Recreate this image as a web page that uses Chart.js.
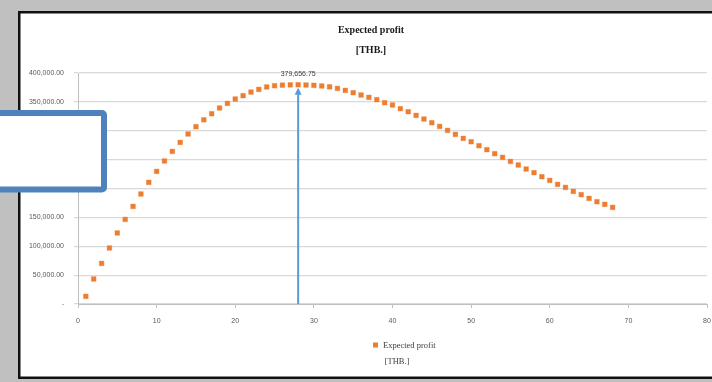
<!DOCTYPE html>
<html>
<head>
<meta charset="utf-8">
<title>Expected profit</title>
<script src="https://cdn.jsdelivr.net/npm/chart.js@4/dist/chart.umd.min.js"></script>
<style>
  html, body { margin: 0; padding: 0; background: #c0c0c0; }
  canvas { display: block; }
</style>
</head>
<body>
<canvas id="chart" width="712" height="382"></canvas>
<script>
// Period numbers (x axis) and the expected profit for each period, in THB.
const periods = Array.from({ length: 68 }, (_, i) => i + 1);
const expectedProfit = [
  13200, 43300, 70300, 97000, 123000, 146500, 169000, 190500, 210600, 229600,
  247600, 264200, 279800, 294400, 307000, 319000, 329500, 339400, 347400, 355000,
  360700, 367000, 371600, 375800, 378000, 379000, 379400, 379656.75, 379200, 378600,
  377500, 376000, 373300, 369900, 365900, 361900, 357800, 353800, 348600, 344600,
  338200, 333000, 326600, 320300, 313900, 307500, 300600, 293700, 286800, 281000,
  274100, 267200, 260300, 253900, 246900, 240700, 233800, 227400, 220400, 214000,
  207100, 201900, 195000, 189300, 182900, 177100, 172500, 167300
];
const xTickStep = 10;
const yTickStep = 50000;

const ORANGE = 'rgb(237,125,49)';
const ARROW_BLUE = 'rgb(91,155,213)';
const BOX_BLUE = 'rgb(79,129,189)';
const SERIF = '"Liberation Serif", "DejaVu Serif", serif';
const SANS = '"Liberation Sans", Arial, sans-serif';

const fmt = new Intl.NumberFormat('en-US', { minimumFractionDigits: 2, maximumFractionDigits: 2 });

// Sheet background and the bordered white chart frame.
const framePlugin = {
  id: 'frame',
  beforeDraw(chart) {
    const ctx = chart.ctx;
    ctx.save();
    ctx.fillStyle = '#c0c0c0';
    ctx.fillRect(0, 0, chart.width, chart.height);
    ctx.fillStyle = '#ffffff';
    ctx.fillRect(19, 12, 720, 366);
    ctx.strokeStyle = '#111111';
    ctx.lineWidth = 2.5;
    ctx.strokeRect(19.25, 12.25, 720, 365.5);
    ctx.restore();
  }
};

// Titles, legend, peak marker and the callout box.
const decorPlugin = {
  id: 'decor',
  afterDraw(chart) {
    const ctx = chart.ctx;
    const xs = chart.scales.x;
    const ys = chart.scales.y;

    ctx.save();
    // Title
    ctx.fillStyle = '#1a1a1a';
    ctx.textAlign = 'center';
    ctx.textBaseline = 'middle';
    ctx.font = 'bold 10px ' + SERIF;
    ctx.fillText('Expected profit', 371, 30);
    ctx.fillText('[THB.]', 371, 50);

    // Peak arrow
    let peakIdx = 0;
    expectedProfit.forEach((v, i) => { if (v > expectedProfit[peakIdx]) peakIdx = i; });
    const px = xs.getPixelForValue(periods[peakIdx]);
    const py = ys.getPixelForValue(expectedProfit[peakIdx]);
    const baseY = ys.getPixelForValue(0);
    const tipY = py + 3;
    ctx.strokeStyle = ARROW_BLUE;
    ctx.fillStyle = ARROW_BLUE;
    ctx.lineWidth = 2;
    ctx.beginPath();
    ctx.moveTo(px, baseY);
    ctx.lineTo(px, tipY + 5);
    ctx.stroke();
    ctx.beginPath();
    ctx.moveTo(px, tipY);
    ctx.lineTo(px - 3.5, tipY + 7);
    ctx.lineTo(px + 3.5, tipY + 7);
    ctx.closePath();
    ctx.fill();

    // Peak value label
    ctx.fillStyle = '#404040';
    ctx.font = '7px ' + SANS;
    ctx.fillText(fmt.format(expectedProfit[peakIdx]), px, py - 11);

    // Legend
    ctx.fillStyle = ORANGE;
    ctx.fillRect(373, 342.5, 5, 5);
    ctx.fillStyle = '#404040';
    ctx.font = '8.5px ' + SERIF;
    ctx.textAlign = 'left';
    ctx.fillText('Expected profit', 383, 345.5);
    ctx.textAlign = 'center';
    ctx.fillText('[THB.]', 397, 362);

    // Callout box on the left
    ctx.lineWidth = 6;
    ctx.strokeStyle = BOX_BLUE;
    ctx.fillStyle = '#ffffff';
    ctx.beginPath();
    ctx.roundRect(-10, 113, 114, 76.5, 2);
    ctx.fill();
    ctx.stroke();
    ctx.restore();
  }
};

new Chart(document.getElementById('chart'), {
  type: 'scatter',
  data: {
    datasets: [{
      label: 'Expected profit',
      data: periods.map((x, i) => ({ x: x, y: expectedProfit[i] })),
      pointStyle: 'rect',
      pointRadius: 3.3,
      pointBorderWidth: 0.4,
      backgroundColor: ORANGE,
      borderColor: ORANGE
    }]
  },
  options: {
    responsive: false,
    animation: false,
    devicePixelRatio: 1,
    layout: { padding: { left: 20, right: 5, top: 73, bottom: 40 } },
    plugins: {
      legend: { display: false },
      title: { display: false },
      tooltip: { enabled: false }
    },
    scales: {
      x: {
        type: 'linear',
        min: 0,
        max: 80,
        afterFit(scale) {
          scale.height = 38;
          scale.paddingLeft = 0;
          scale.paddingRight = 0;
        },
        ticks: {
          stepSize: xTickStep,
          color: '#595959',
          font: { family: SANS, size: 7 },
          padding: 9,
          maxRotation: 0
        },
        grid: { drawOnChartArea: false, tickLength: 4, color: '#bfbfbf' },
        border: { color: '#bfbfbf' }
      },
      y: {
        min: 0,
        max: 400000,
        afterFit(scale) {
          scale.width = 58;
          scale.paddingTop = 0;
          scale.paddingBottom = 0;
        },
        ticks: {
          stepSize: yTickStep,
          color: '#595959',
          font: { family: SANS, size: 7 },
          padding: 10,
          callback: (v) => (v === 0 ? '-' : fmt.format(v))
        },
        grid: { color: '#d9d9d9', tickLength: 4, lineWidth: 1.2 },
        border: { color: '#bfbfbf' }
      }
    }
  },
  plugins: [framePlugin, decorPlugin]
});
</script>
</body>
</html>
